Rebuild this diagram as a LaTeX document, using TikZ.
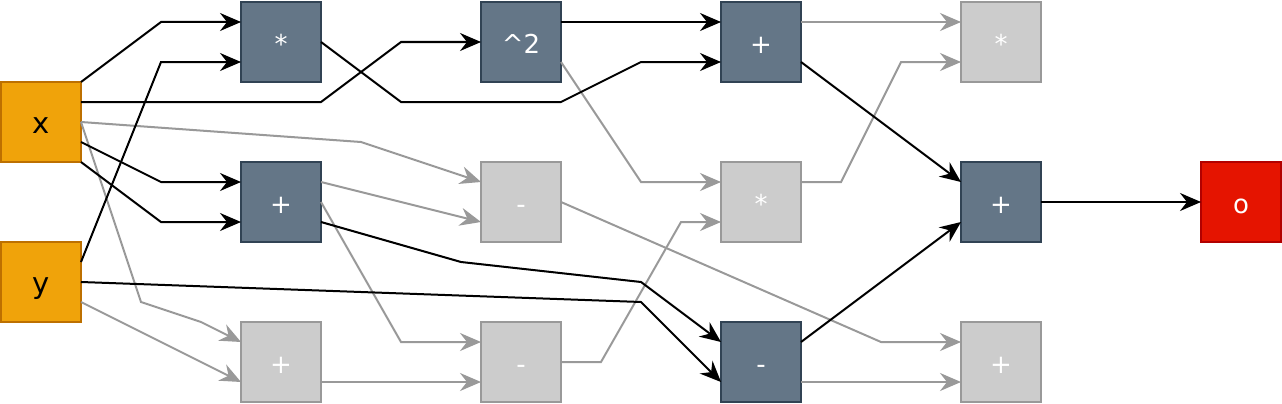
\documentclass[tikz,border=0pt]{standalone}
\usepackage{fontspec}
\setmainfont{DejaVu Sans}
\usetikzlibrary{arrows.meta}

\definecolor{slate}{HTML}{647687}
\definecolor{slateline}{HTML}{314354}
\definecolor{idlefill}{HTML}{CCCCCC}
\definecolor{idleline}{HTML}{999999}
\definecolor{varfill}{HTML}{F0A30A}
\definecolor{varline}{HTML}{BD7000}
\definecolor{resfill}{HTML}{E51400}
\definecolor{resline}{HTML}{B20000}

\begin{document}
\begin{tikzpicture}[
  x=1pt,y=-1pt,
  box/.style={draw,line width=1.6pt,minimum size=80pt,inner sep=0pt,outer sep=0pt,
    text height=22pt,text depth=0pt,font=\fontsize{26}{30}\selectfont},
  op/.style={box,fill=slate,draw=slateline,text=white},
  idle/.style={box,fill=idlefill,draw=idleline,text=white},
  var/.style={box,fill=varfill,draw=varline,font=\fontsize{29}{33}\selectfont},
  result/.style={box,fill=resfill,draw=resline,text=white},
  signal/.style={-{Stealth[length=21pt,width=18pt,inset=7pt]},line width=2pt},
  faded/.style={signal,color=idleline}
]
  \useasboundingbox (-1,-2) rectangle (1281,402);

  \node[var] (x) at (40,120) {x};
  \node[var] (y) at (40,280) {y};

  \node[op]   (mul)    at (280,40)  {*};
  \node[op]   (addxy)  at (280,200) {+};
  \node[idle] (addlo)  at (280,360) {+};

  \node[op]   (sq)     at (520,40)  {\textasciicircum 2};
  \node[idle] (subA)   at (520,200) {-};
  \node[idle] (subB)   at (520,360) {-};

  \node[op]   (addtop) at (760,40)  {+};
  \node[idle] (mulmid) at (760,200) {*};
  \node[op]   (subbot) at (760,360) {-};

  \node[idle] (multop) at (1000,40)  {*};
  \node[op]   (addout) at (1000,200) {+};
  \node[idle] (addbot) at (1000,360) {+};

  \node[result] (out) at (1240,200) {o};

  % unused branches
  \draw[faded] ([yshift=20pt]sq.south east) -- (640,180) -- ([yshift=-20pt]mulmid.north west);
  \draw[faded] (x.east) -- (360,140) -- ([yshift=-20pt]subA.north west);
  \draw[faded] (x.east) -- (140,300) -- (200,320) -- ([yshift=-20pt]addlo.north west);
  \draw[faded] (addxy.east) -- (400,340) -- ([yshift=-20pt]subB.north west);
  \draw[faded] (subB.east) -- (600,360) -- (680,220) -- ([yshift=20pt]mulmid.south west);
  \draw[faded] (subA.east) -- (880,340) -- ([yshift=-20pt]addbot.north west);
  \draw[faded] ([yshift=-20pt]mulmid.north east) -- (840,180) -- (900,60) -- ([yshift=20pt]multop.south west);
  \path[faded]
    ([yshift=20pt]y.south east) edge ([yshift=20pt]addlo.south west)
    ([yshift=-20pt]addxy.north east) edge ([yshift=20pt]subA.south west)
    ([yshift=20pt]addlo.south east) edge ([yshift=20pt]subB.south west)
    ([yshift=-20pt]addtop.north east) edge ([yshift=-20pt]multop.north west)
    ([yshift=20pt]subbot.south east) edge ([yshift=20pt]addbot.south west);

  % active branches
  \draw[signal] (x.north east) -- (160,20) -- ([yshift=-20pt]mul.north west);
  \draw[signal] ([yshift=-20pt]y.north east) -- (160,60) -- ([yshift=20pt]mul.south west);
  \draw[signal] ([yshift=-20pt]x.north east) -- (320,100) -- (400,40) -- (sq.west);
  \draw[signal] (mul.east) -- (400,100) -- (560,100) -- (640,60) -- ([yshift=20pt]addtop.south west);
  \draw[signal] ([yshift=20pt]x.south east) -- (160,180) -- ([yshift=-20pt]addxy.north west);
  \draw[signal] (x.south east) -- (160,220) -- ([yshift=20pt]addxy.south west);
  \draw[signal] (y.east) -- (640,300) -- ([yshift=20pt]subbot.south west);
  \draw[signal] ([yshift=20pt]addxy.south east) -- (460,260) -- (640,280) -- ([yshift=-20pt]subbot.north west);
  \path[signal]
    ([yshift=-20pt]sq.north east) edge ([yshift=-20pt]addtop.north west)
    ([yshift=20pt]addtop.south east) edge ([yshift=-20pt]addout.north west)
    ([yshift=-20pt]subbot.north east) edge ([yshift=20pt]addout.south west)
    (addout) edge (out);
\end{tikzpicture}
\end{document}
